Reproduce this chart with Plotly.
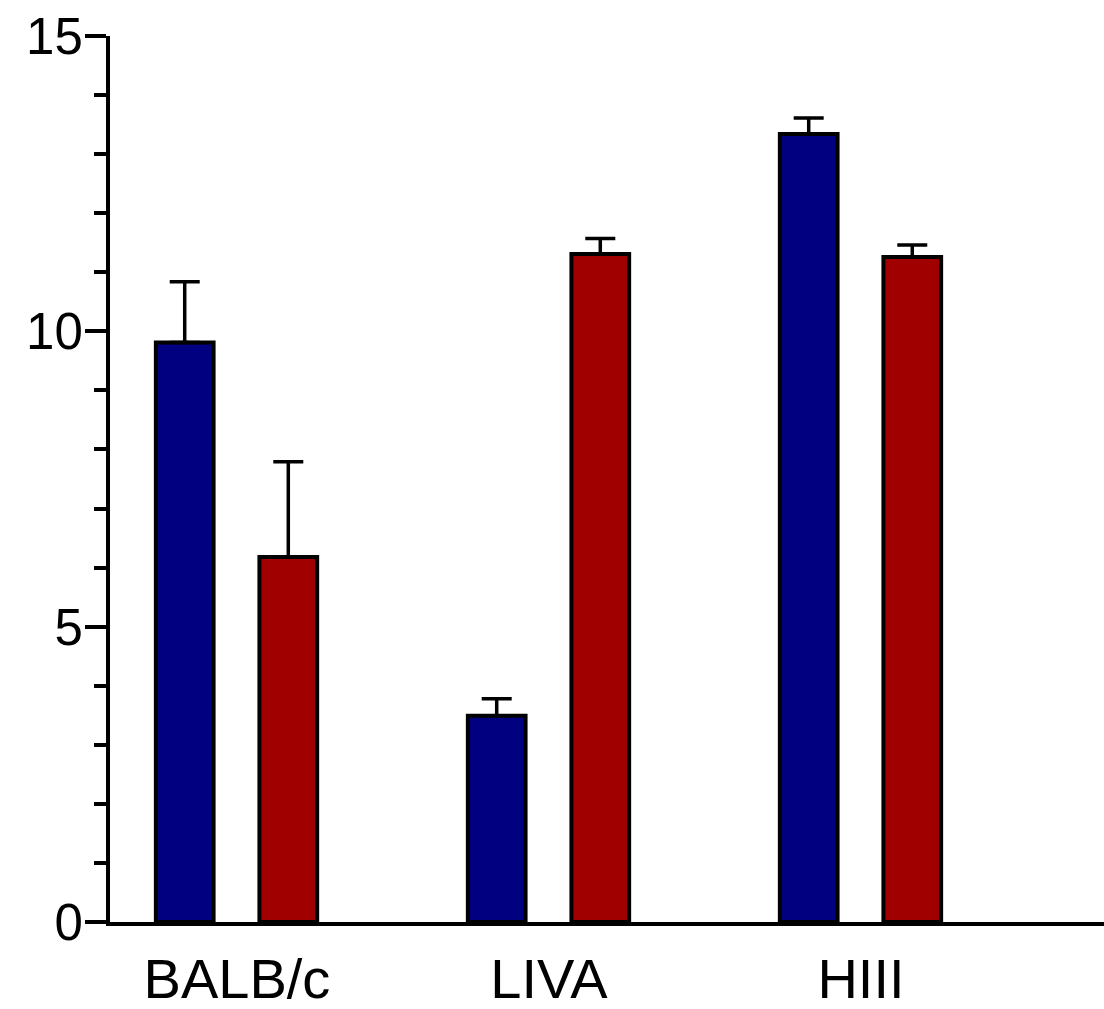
import plotly.graph_objects as go

# Strains and group means with upper standard errors
strains = ["BALB/c", "LIVA", "HIII"]
blue_means = [9.81, 3.49, 13.34]
blue_errs = [1.03, 0.29, 0.27]
red_means = [6.18, 11.31, 11.26]
red_errs = [1.61, 0.26, 0.20]

y_major = [0, 5, 10, 15]

BLUE = "#000080"
RED = "#a00000"
FONT = "Liberation Sans, Arial, sans-serif"

fig = go.Figure()

def add_series(means, errs, color, offset):
    fig.add_trace(go.Bar(
        x=strains,
        y=means,
        width=0.185,
        offset=offset,
        marker=dict(color=color, line=dict(color="black", width=4)),
        error_y=dict(
            type="data",
            symmetric=False,
            array=errs,
            arrayminus=[0] * len(errs),
            color="black",
            thickness=3.5,
            width=15,
        ),
        showlegend=False,
    ))

add_series(blue_means, blue_errs, BLUE, -0.26)
add_series(red_means, red_errs, RED, 0.072)

fig.update_layout(
    width=1104,
    height=1009,
    margin=dict(l=110, r=0, t=36, b=87),
    paper_bgcolor="white",
    plot_bgcolor="white",
    font=dict(family=FONT, color="black"),
    barmode="overlay",
)

fig.update_xaxes(
    type="category",
    range=[-0.407, 2.779],
    automargin=False,
    showline=True,
    linecolor="black",
    linewidth=4,
    ticks="",
    showgrid=False,
    zeroline=False,
    tickfont=dict(size=56, family=FONT, color="black"),
    ticklabelstandoff=5,
)

fig.update_yaxes(
    range=[0, 15],
    automargin=False,
    showline=True,
    linecolor="black",
    linewidth=4,
    showgrid=False,
    zeroline=False,
    tickmode="array",
    tickvals=y_major,
    ticktext=[str(v) for v in y_major],
    ticks="outside",
    ticklen=21,
    tickwidth=4,
    tickcolor="black",
    tickfont=dict(size=51, family=FONT, color="black"),
    ticklabelstandoff=-8,
    minor=dict(dtick=1, ticks="outside", ticklen=12, tickwidth=4, tickcolor="black", showgrid=False),
)

fig.write_html("out.html")
